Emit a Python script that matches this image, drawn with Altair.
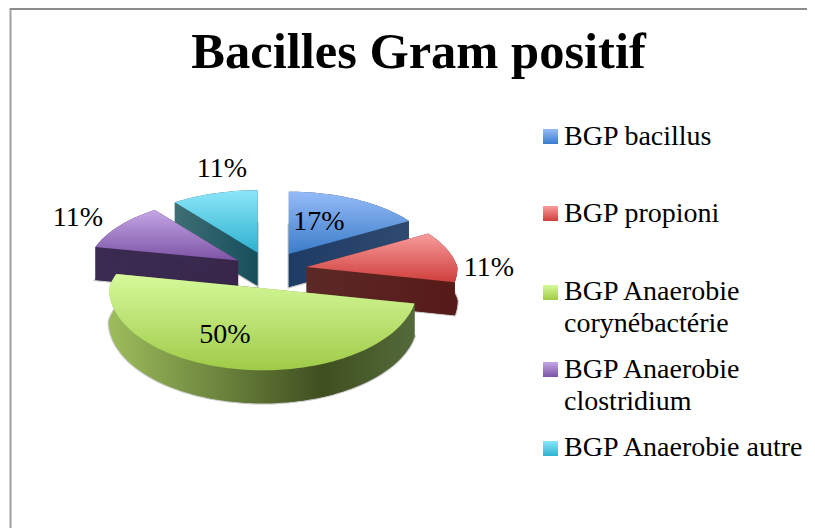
import math
import altair as alt

# ---- chart values -------------------------------------------------------
categories = ["BGP bacillus", "BGP propioni", "BGP Anaerobie\ncorynébactérie",
              "BGP Anaerobie\nclostridium", "BGP Anaerobie autre"]
values = [17, 11, 50, 11, 11]
percent_labels = ["17%", "11%", "50%", "11%", "11%"]
top_colours = [("#95bbf8", "#3a7cc8"), ("#f89c9c", "#cf3f3c"), ("#d6f99b", "#9fcb48"),
               ("#c4a6e6", "#7c53a4"), ("#8ce6f9", "#2fb1d0")]
side_colours = [[("#1e3b65", 0), ("#2f4a70", 1)],
                [("#5c2927", 0), ("#561a18", 1)],
                [("#9dbd5c", 0), ("#3f4f20", 0.7), ("#546a3a", 1)],
                [("#3d2c52", 0), ("#37264a", 1)],
                [("#3f6e74", 0), ("#154e5b", 1)]]

# ---- layout (canvas pixels) ---------------------------------------------
W, H = 799, 520
OFF = 8
CX, CY = 270 - OFF, 270 - OFF
EXPLODE = 37
R, T_BACK, T_FRONT, PERSP = 154, 77.4, 82, 0.166
DEPTH_K = 0.001
DEPTH = 33
label_xy = [(319, 222), (489, 268), (225, 335), (78, 218), (222, 169)]
swatch_top = [129, 206, 285, 362, 441]
legend_base = [145, 222, 300, 378, 456]


def rim(ax, ay, deg, dy=0.0):
    t = math.radians(deg)
    c, s_ = math.cos(t), math.sin(t)
    far = 1 - DEPTH_K * (CY + 17 - ay)
    s = (1 - PERSP * max(c, 0)) * far
    tt = T_BACK if c > 0 else T_FRONT
    return [ax + R * s_ * s, ay - tt * c * s + dy]


def feature(poly):
    return {"type": "Feature", "properties": {},
            "geometry": {"type": "Polygon", "coordinates": [poly + [poly[0]]]}}


def grad_v(c1, c2):
    return alt.Gradient(gradient="linear", x1=0, x2=0, y1=0, y2=1,
                        stops=[alt.GradientStop(color=c1, offset=0),
                               alt.GradientStop(color=c2, offset=1)])


def grad_h(stops):
    return alt.Gradient(gradient="linear", x1=0, x2=1, y1=0, y2=0,
                        stops=[alt.GradientStop(color=c, offset=o) for c, o in stops])


proj = dict(type="identity", scale=1, translate=[0, 0])
total = sum(values)
spans, a = [], 0.0
for v in values:
    spans.append((a, a + v / total * 360))
    a += v / total * 360

layers = {}
for i, (a0, a1) in enumerate(spans):
    mid = math.radians((a0 + a1) / 2)
    ax = CX + EXPLODE * math.sin(mid)
    ay = CY - EXPLODE * 0.5 * math.cos(mid)
    n = max(2, int((a1 - a0) / 2))
    angs = [a0 + (a1 - a0) * k / n for k in range(n + 1)]
    top_arc = [rim(ax, ay, d) for d in angs]
    bot_arc = [rim(ax, ay, d, DEPTH) for d in angs]
    apex, apex_b = [ax, ay], [ax, ay + DEPTH]
    top = [apex] + top_arc
    bottom = [apex_b] + bot_arc
    wall_end = [apex, top_arc[-1], bot_arc[-1], apex_b]
    wall_start = [apex, top_arc[0], bot_arc[0], apex_b]
    wall_rim = top_arc + bot_arc[::-1]
    shadow = alt.Chart(alt.Data(values=[feature(bottom)])).mark_geoshape(
        fill="#8c8c8c", stroke="#8c8c8c", strokeWidth=2.5, opacity=0.5).project(**proj)
    walls = [feature(p) for p in (bottom, wall_start, wall_end, wall_rim)]
    side = alt.Chart(alt.Data(values=walls)).mark_geoshape(
        fill=grad_h(side_colours[i]), strokeWidth=0).project(**proj)
    face = alt.Chart(alt.Data(values=[feature(top)])).mark_geoshape(
        fill=grad_v(*top_colours[i]), strokeWidth=0).project(**proj)
    layers[i] = [shadow, side, face]

draw_order = [4, 3, 0, 1, 2]
parts = []
for i in draw_order:
    parts += layers[i]

# ---- frame --------------------------------------------------------------
frame_left = alt.Chart(alt.Data(values=[{"a": 0}])).mark_rule(color="#a0a0a0", strokeWidth=2).encode(
    x=alt.value(2.5), y=alt.value(0), y2=alt.value(H))
frame_top = alt.Chart(alt.Data(values=[{"a": 0}])).mark_rule(color="#8c8c8c", strokeWidth=2).encode(
    x=alt.value(2), x2=alt.value(W), y=alt.value(1))

# ---- percentage labels --------------------------------------------------
label_data = [{"t": t, "px": x - OFF, "py": y - OFF} for t, (x, y) in zip(percent_labels, label_xy)]
pct = alt.Chart(alt.Data(values=label_data)).mark_text(
    font="Liberation Serif", fontSize=28, color="#000000", align="center", baseline="middle").encode(
    x=alt.X("px:Q", scale=None), y=alt.Y("py:Q", scale=None), text="t:N")

# ---- legend -------------------------------------------------------------
legend = []
for i, name in enumerate(categories):
    y0 = swatch_top[i] - OFF
    legend.append(alt.Chart(alt.Data(values=[{"a": name}])).mark_rect(fill=grad_v(*top_colours[i])).encode(
        x=alt.value(543 - OFF), x2=alt.value(558 - OFF), y=alt.value(y0), y2=alt.value(y0 + 15)))
    legend.append(alt.Chart(alt.Data(values=[{"t": name}])).mark_text(
        font="Liberation Serif", fontSize=28, color="#000000", align="left", baseline="alphabetic",
        lineBreak="\n", lineHeight=32).encode(
        x=alt.value(564 - OFF), y=alt.value(legend_base[i] - OFF), text="t:N"))

chart = alt.layer(frame_left, frame_top, *parts, pct, *legend).properties(
    width=W, height=H, padding=0, autosize=alt.AutoSizeParams(type="none"),
    background="#ffffff",
    title=alt.TitleParams("Bacilles Gram positif", font="Liberation Serif", fontWeight="bold",
                          fontSize=50.5, color="#000000", anchor="middle", dx=11, dy=75),
).configure_view(stroke=None)

chart.save("out.html", embed_options={"renderer": "svg", "actions": False})
